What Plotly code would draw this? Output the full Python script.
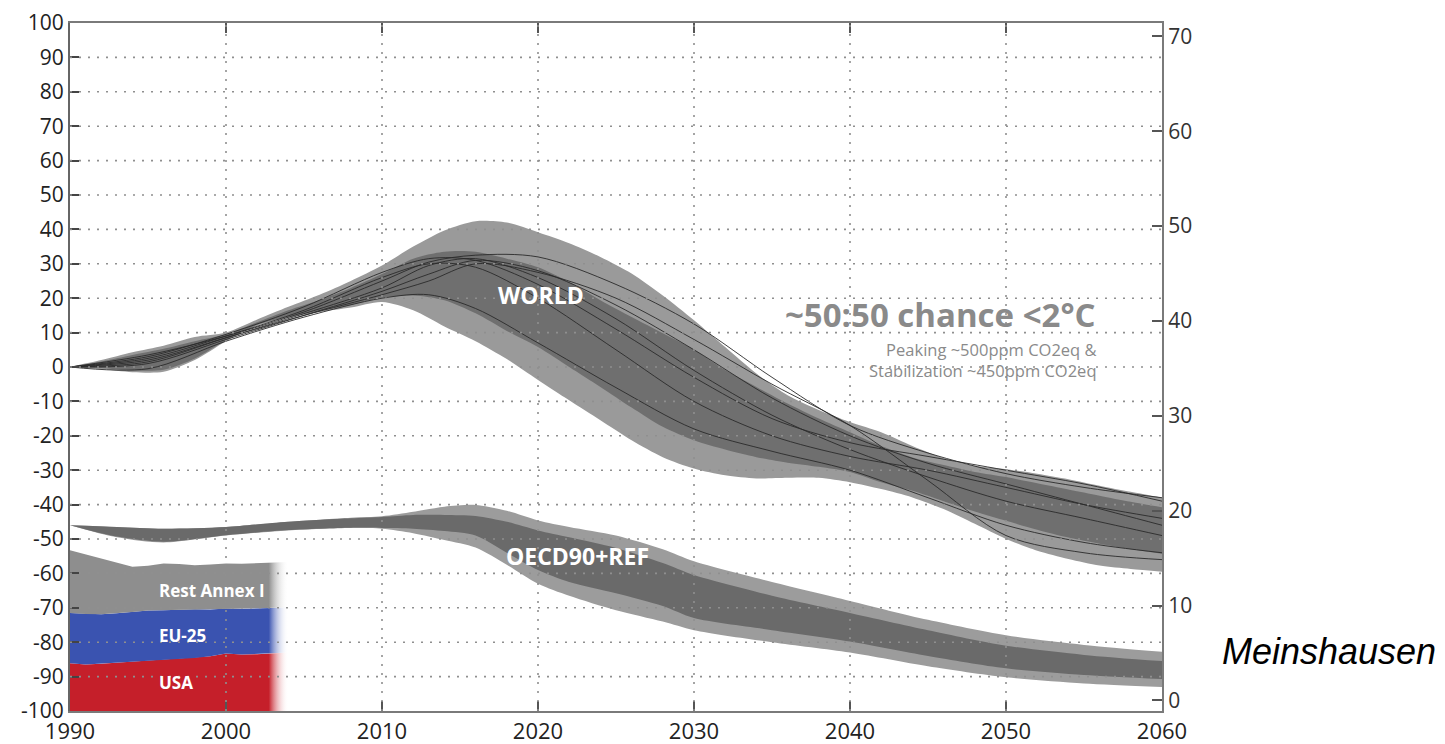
import plotly.graph_objects as go

# ---------------- data (left-axis units) ----------------
W_YEARS = [1990, 1992, 1994, 1996, 1998, 2000, 2002, 2004, 2006, 2008, 2010, 2012,
           2014, 2016, 2018, 2020, 2022, 2024, 2026, 2028, 2030, 2032, 2034, 2036,
           2038, 2040, 2042, 2044, 2046, 2048, 2050, 2052, 2054, 2056, 2058, 2060]
W_OUT_HI = [0, 2, 4.3, 6.2, 8.7, 10, 13.8, 17.5, 21, 25, 29.5, 35,
            39.7, 42.4, 42, 39.2, 36, 32, 27.2, 20.8, 13.6, 5.8, -1.9, -8.2,
            -12.5, -16, -19, -23, -26.5, -28.7, -29.7, -31, -32.6, -34.5, -36.3, -38]
W_OUT_LO = [0, -0.6, -1.5, -1.4, 2, 7.5, 12, 14.3, 16, 17.3, 18.9, 16.5,
            11.8, 7.5, 2.3, -3.8, -9.7, -15.5, -21.3, -26.2, -29.5, -31.5, -32.4, -32.2,
            -32.2, -33.5, -35.5, -37.9, -41.3, -45.6, -50, -53.4, -55.8, -57.7, -58.7, -59.5]
W_IN_HI = [0, 1.6, 3.5, 5.3, 7.5, 9.5, 13, 16.5, 19.5, 23, 27, 31.5,
           33.5, 33.5, 31.5, 29, 24.7, 19.4, 14.5, 9.8, 5, -0.9, -5.8, -10.6,
           -15, -19, -23, -26.3, -28.5, -30.5, -32, -33.8, -35.6, -37.4, -39.2, -40.8]
W_IN_LO = [0, -0.3, -1, -0.8, 2.5, 7.8, 12.3, 14.6, 16.3, 18, 20.2, 20.8,
           19.4, 15.6, 10.5, 5.8, 0, -5.8, -11.8, -17.4, -21.3, -24, -26.2, -27.8,
           -29, -30.5, -33.5, -36, -39, -42, -44.7, -47.3, -49.6, -51.4, -53, -54.3]

L_YEARS = [1990, 1995, 2000, 2005, 2010, 2013, 2016, 2020, 2025, 2030, 2035, 2040, 2045, 2050, 2055, 2060]
PATHWAYS = [
    [0, -0.5, 7.5, 14.5, 20, 21, 17, 7, -6, -18, -24.5, -30, -38, -46, -51, -54],
    [0, 3.5, 9, 16, 25, 30.5, 32.5, 32, 24, 12.5, -3, -17, -25, -31, -35, -38],
    [0, 1.5, 8.5, 15.5, 23, 29.5, 31.5, 26, 14, -1, -14, -24, -32, -39, -44, -49],
    [0, 2.5, 9, 16.5, 26, 30, 29, 20, 5, -10, -20, -26, -30, -35, -40, -44],
    [0, 1, 8, 15, 22, 27, 31, 28, 18, 5, -9, -20, -28, -34, -40, -46],
    [0, 2, 8.5, 15, 21, 25, 30, 27.5, 20, 8, -5, -17, -33, -49, -54, -56],
    [0, 3, 9.5, 17.5, 27.5, 31.5, 31, 24, 11, -3, -15, -22, -26, -30, -34, -39],
]

O_YEARS = [1990, 1993, 1996, 2000, 2004, 2008, 2010, 2012, 2014, 2016, 2018, 2020,
           2022, 2025, 2028, 2030, 2035, 2040, 2045, 2050, 2055, 2060]
O_OUT_HI = [-46, -46.5, -47, -46.5, -45, -43.8, -43.4, -42.1, -40.6, -40.1, -41.8, -44.6,
            -46.5, -49, -53, -56.5, -62.5, -68, -73.5, -78, -80.8, -82.8]
O_OUT_LO = [-46, -49.5, -51, -49, -47.5, -46.8, -47, -48.3, -50.3, -52.5, -57.5, -63,
            -66.5, -70.7, -74, -76.5, -80, -83, -87, -90.2, -92, -93]
O_IN_HI = [-46, -46.5, -47, -46.5, -45, -44, -43.6, -43, -43, -43.3, -45, -47.5,
           -49.5, -52.6, -57, -60.5, -66.5, -71.5, -76.5, -81, -83.7, -85.5]
O_IN_LO = [-46, -49.3, -50.8, -48.9, -47.4, -46.7, -46.8, -47, -47.7, -49, -54, -59,
           -62.5, -65.8, -69.5, -73, -76.5, -79.8, -84, -87.6, -89.5, -90.7]

H_YEARS = [1990, 1991, 1992, 1993, 1994, 1995, 1996, 1997, 1998, 1999, 2000, 2001, 2002, 2003, 2004]
BASE = -100
USA_TOP = [-86.1, -86.5, -86.3, -86, -85.8, -85.5, -85.2, -84.9, -84.6, -84.1, -83.3, -83.6, -83.5, -83.2, -83]
EU_TOP = [-71.5, -71.8, -71.9, -71.6, -71.2, -70.8, -70.7, -70.5, -70.4, -70.5, -70.2, -70.3, -70.2, -70, -69.9]
REST_TOP = [-53.3, -54.5, -55.7, -57, -58.1, -57.8, -57.1, -57.3, -57.6, -57.4, -57.1, -57.2, -57.1, -56.9, -56.7]
H_LABELS = ["Rest Annex I", "EU-25", "USA"]

X_TICKS = [1990, 2000, 2010, 2020, 2030, 2040, 2050, 2060]
Y_TICKS = list(range(-100, 101, 10))
Y_TICKTEXT = [str(v) for v in Y_TICKS]  # plain hyphen minus
Y2_TICKS = [0, 10, 20, 30, 40, 50, 60, 70]
Y2_RANGE = [-1.12, 71.4]

# ---------------- styles ----------------
LIGHT = "#9a9a9a"
DARK = "#6f6f6f"
O_LIGHT = "#9c9c9c"
O_DARK = "#6a6a6a"
C_USA = "#c51f2a"
C_EU = "#3a53b0"
C_REST = "#8e8e8e"
FONT = "Open Sans"

fig = go.Figure()


def band(x, lo, hi, color):
    fig.add_trace(go.Scatter(x=x, y=lo, mode="lines", line=dict(width=0, shape="spline", smoothing=0.8),
                             hoverinfo="skip", showlegend=False))
    fig.add_trace(go.Scatter(x=x, y=hi, mode="lines", line=dict(width=0, shape="spline", smoothing=0.8),
                             fill="tonexty", fillcolor=color, hoverinfo="skip", showlegend=False))


band(W_YEARS, W_OUT_LO, W_OUT_HI, LIGHT)
band(W_YEARS, W_IN_LO, W_IN_HI, DARK)
for p in PATHWAYS:
    fig.add_trace(go.Scatter(x=L_YEARS, y=p, mode="lines",
                             line=dict(color="#2a2a2a", width=0.9, shape="spline", smoothing=0.9),
                             hoverinfo="skip", showlegend=False))
band(O_YEARS, O_OUT_LO, O_OUT_HI, O_LIGHT)
band(O_YEARS, O_IN_LO, O_IN_HI, O_DARK)

# stacked historic areas with fade-out gradient
layers = [([BASE] * len(H_YEARS), USA_TOP, C_USA),
          (USA_TOP, EU_TOP, C_EU),
          (EU_TOP, REST_TOP, C_REST)]
for lo, hi, col in layers:
    xs = H_YEARS + H_YEARS[::-1]
    ys = hi + lo[::-1]
    fig.add_trace(go.Scatter(x=xs, y=ys, mode="lines", line=dict(width=0), fill="toself",
                             fillgradient=dict(type="horizontal",
                                               colorscale=[[0, col], [0.91, col], [1, "rgba(255,255,255,0)"]]),
                             hoverinfo="skip", showlegend=False))

# dummy trace for right axis
fig.add_trace(go.Scatter(x=[X_TICKS[0]], y=[Y2_TICKS[0]], yaxis="y2", mode="markers",
                         marker=dict(opacity=0), hoverinfo="skip", showlegend=False))

# dotted grid drawn over the bands
shapes = []
for xv in X_TICKS[1:-1]:
    shapes.append(dict(type="line", xref="x", yref="y", x0=xv, x1=xv, y0=Y_TICKS[0], y1=Y_TICKS[-1],
                       line=dict(color="#8f8f8f", width=1.6, dash="2px,7px"), layer="above"))
for yv in Y_TICKS[1:-1]:
    shapes.append(dict(type="line", xref="x", yref="y", x0=X_TICKS[0], x1=X_TICKS[-1], y0=yv, y1=yv,
                       line=dict(color="#8f8f8f", width=1.6, dash="2px,7px"), layer="above"))

annotations = [
    dict(x=2020.2, y=21, xref="x", yref="y", text="<b>WORLD</b>", showarrow=False,
         font=dict(family=FONT, size=23, color="white")),
    dict(x=2022.5, y=-55, xref="x", yref="y", text="<b>OECD90+REF</b>", showarrow=False,
         font=dict(family=FONT, size=23, color="white")),
    dict(x=1995.6, y=-65, xref="x", yref="y", text="<b>" + H_LABELS[0] + "</b>", showarrow=False, xanchor="left",
         font=dict(family=FONT, size=17, color="white")),
    dict(x=1995.6, y=-78, xref="x", yref="y", text="<b>" + H_LABELS[1] + "</b>", showarrow=False, xanchor="left",
         font=dict(family=FONT, size=17, color="white")),
    dict(x=1995.6, y=-91.6, xref="x", yref="y", text="<b>" + H_LABELS[2] + "</b>", showarrow=False, xanchor="left",
         font=dict(family=FONT, size=17, color="white")),
    dict(x=2055.9, y=15.2, xref="x", yref="y", text="<b>~50:50 chance &lt;2°C</b>", showarrow=False,
         xanchor="right", font=dict(family=FONT, size=33, color="#8a8a8a")),
    dict(x=2055.9, y=2.0, xref="x", yref="y", yanchor="middle",
         text="Peaking ~500ppm CO2eq &amp;<br>Stabilization ~450ppm CO2eq", showarrow=False,
         xanchor="right", align="right", font=dict(family=FONT, size=16.5, color="#8a8a8a")),
    dict(x=1.053, y=0.087, xref="paper", yref="paper", text="<i>Meinshausen</i>", showarrow=False,
         xanchor="left", yanchor="middle", font=dict(family="Liberation Sans", size=36, color="black")),
]

# the page body adds an 8px offset; margins compensate so the plot sits at 70..1162 x 23..711
fig.update_layout(
    width=1445, height=744,
    margin=dict(l=62, r=291, t=15, b=41, autoexpand=False),
    paper_bgcolor="white", plot_bgcolor="white",
    showlegend=False,
    shapes=shapes, annotations=annotations,
    xaxis=dict(range=[X_TICKS[0], X_TICKS[-1]], tickvals=X_TICKS, showgrid=False, zeroline=False,
               automargin=False,
               ticks="inside", ticklen=10, tickwidth=2, tickcolor="#555",
               showline=True, linecolor="#7a7a7a", linewidth=2, mirror="ticks",
               tickfont=dict(family=FONT, size=22, color="#222")),
    yaxis=dict(range=[Y_TICKS[0], Y_TICKS[-1]], tickvals=Y_TICKS, ticktext=Y_TICKTEXT,
               showgrid=False, zeroline=False, automargin=False,
               ticks="inside", ticklen=9, tickwidth=2, tickcolor="#444",
               showline=True, linecolor="#666", linewidth=2,
               tickfont=dict(family=FONT, size=21, color="#222")),
    yaxis2=dict(range=Y2_RANGE, tickvals=Y2_TICKS, overlaying="y", side="right", showgrid=False,
                zeroline=False, automargin=False, ticks="inside", ticklen=10, tickwidth=1.5,
                tickcolor="#555", showline=True, linecolor="#7a7a7a", linewidth=2,
                tickfont=dict(family=FONT, size=21, color="#333")),
)

fig.write_html("out.html")
